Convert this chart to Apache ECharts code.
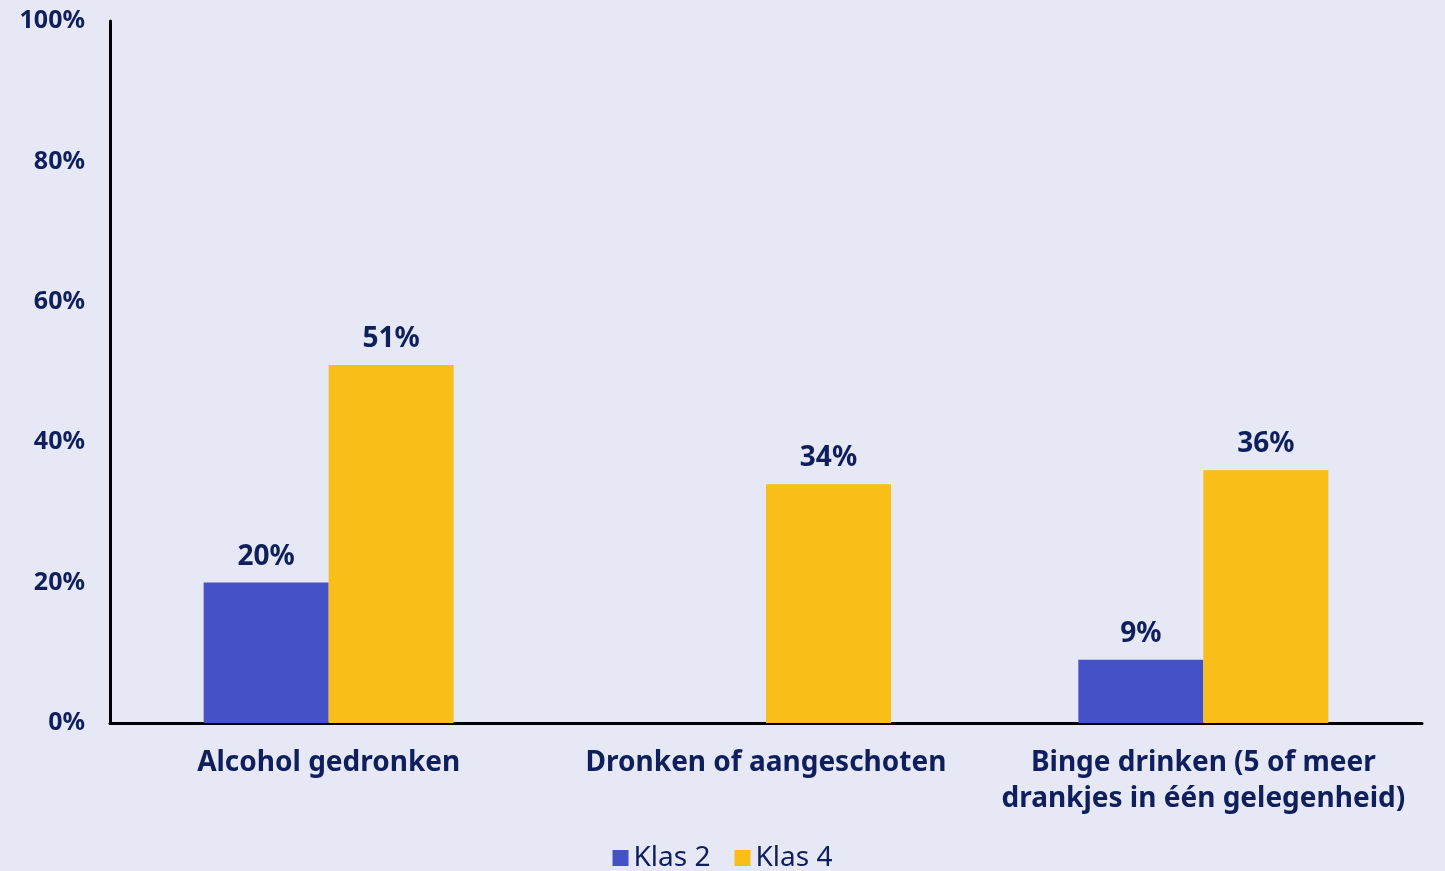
<!DOCTYPE html>
<html>
<head>
<meta charset="utf-8">
<script src="https://cdn.jsdelivr.net/npm/echarts@6/dist/echarts.min.js"></script>
<style>
  html, body { margin: 0; padding: 0; background: #e6e8f6; }
  #chart { width: 1445px; height: 871px; }
</style>
</head>
<body>
<div id="chart"></div>
<script>
// data
const categories = ['Alcohol gedronken', 'Dronken of aangeschoten', 'Binge drinken (5 of meer\ndrankjes in één gelegenheid)']
const klas2 = [20, null, 9]
const klas4 = [51, 34, 36]
const yTicks = [0, 20, 40, 60, 80, 100]

const navy = '#0f1f5c'
const font = 'Noto Sans'

const barLabel = {
  show: true,
  position: 'top',
  distance: 12,
  formatter: '{c}%',
  color: navy,
  fontFamily: font,
  fontWeight: 'bold',
  fontSize: 28
}

const chart = echarts.init(document.getElementById('chart'))
chart.setOption({
  backgroundColor: '#e6e8f6',
  animation: false,
  color: ['#4551c6', '#f9be18'],
  grid: { left: 110, right: 23, top: 21, bottom: 148 },
  legend: {
    top: 839,
    left: 'center',
    itemWidth: 16,
    itemHeight: 16,
    itemGap: 24,
    icon: 'rect',
    textStyle: { color: navy, fontFamily: font, fontSize: 28 }
  },
  xAxis: {
    type: 'category',
    data: categories,
    axisLine: { lineStyle: { color: '#000', width: 3 } },
    axisTick: { show: false },
    axisLabel: {
      color: navy,
      fontFamily: font,
      fontWeight: 'bold',
      fontSize: 28,
      lineHeight: 36,
      margin: 22,
      interval: 0
    }
  },
  yAxis: {
    type: 'value',
    min: 0,
    max: 100,
    interval: 20,
    axisLine: { show: true, lineStyle: { color: '#000', width: 3 } },
    axisTick: { show: false },
    splitLine: { show: false },
    axisLabel: {
      color: navy,
      fontFamily: font,
      fontWeight: 'bold',
      fontSize: 25,
      margin: 25,
      formatter: v => yTicks.includes(v) ? v + '%' : ''
    }
  },
  series: [
    { name: 'Klas 2', type: 'bar', data: klas2, barWidth: 125, barGap: '0%', label: barLabel },
    { name: 'Klas 4', type: 'bar', data: klas4, barWidth: 125, barGap: '0%', label: barLabel }
  ]
})
</script>
</body>
</html>
